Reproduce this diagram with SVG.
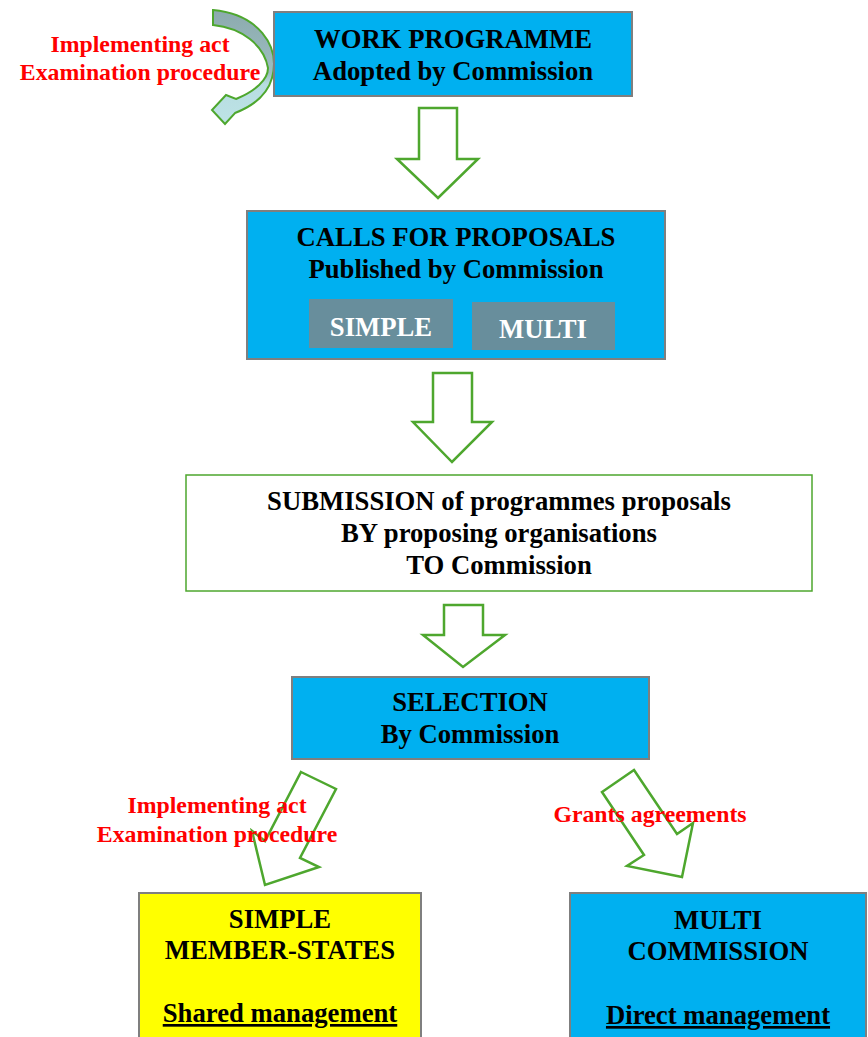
<svg xmlns="http://www.w3.org/2000/svg" width="868" height="1037" viewBox="0 0 868 1037">
<defs>
<style>
.box{fill:#00B0F0;stroke:#7F7F7F;stroke-width:2}
.yel{fill:#FFFF00;stroke:#7F7F7F;stroke-width:2}
.sub{fill:#FFFFFF;stroke:#4EA72E;stroke-width:1.5}
.tag{fill:#688E9C}
.arr{fill:none;stroke:#4EA72E;stroke-width:2.5;stroke-linejoin:miter}
.t{font-family:"Liberation Serif","Times New Roman",serif;font-weight:bold;font-size:26.7px;fill:#000;text-anchor:middle}
.w{fill:#FFFFFF}
.r{font-family:"Liberation Serif","Times New Roman",serif;font-weight:bold;font-size:23.8px;fill:#FF0000;text-anchor:middle}
.u{text-decoration:underline}
</style>
<linearGradient id="curv" x1="0" y1="0" x2="0" y2="1">
<stop offset="0" stop-color="#8CAAAE"/>
<stop offset="0.55" stop-color="#9CBDC0"/>
<stop offset="0.65" stop-color="#B7DDE1"/>
<stop offset="1" stop-color="#BDE3E6"/>
</linearGradient>
</defs>
<rect width="868" height="1037" fill="#FFFFFF"/>

<g id="connectors">
<path id="curved-arrow" d="M213,10 C257,14 281,45 272,78 C267,96 253,106 235,113 L225,124 L212,110 L226,95 L236,99 C255,91 268,80 268,68 C264,45 242,28 213,25 Z" fill="url(#curv)" stroke="#4EA72E" stroke-width="2"/>
<polygon class="arr" points="419,108 457,108 457,159 478,159 438,198 397,159 419,159"/>
<polygon class="arr" points="433,373 472,373 472,422 492,422 452,462 413,422 433,422"/>
<polygon class="arr" points="444,605 483,605 483,635 505,635 463,667 423,635 444,635"/>
<polygon class="arr" points="301,772 336,789 300,858 319,867 265,885 252,831 265,841"/>
<polygon class="arr" points="634,770 677,834 693,823 682,877 627,866 644,855 602,792"/>
</g>

<g id="label-top">
<text class="r" x="140" y="52">Implementing act</text>
<text class="r" x="140" y="80">Examination procedure</text>
</g>

<g id="work-programme">
<rect class="box" x="274" y="12" width="358" height="84"/>
<text class="t" x="453" y="48">WORK PROGRAMME</text>
<text class="t" x="453" y="80">Adopted by Commission</text>
</g>

<g id="calls-for-proposals">
<rect class="box" x="247" y="211" width="418" height="148"/>
<text class="t" x="456" y="246">CALLS FOR PROPOSALS</text>
<text class="t" x="456" y="278">Published by Commission</text>
<g id="tag-simple">
<rect class="tag" x="309" y="299" width="144" height="49"/>
<text class="t w" x="381" y="336">SIMPLE</text>
</g>
<g id="tag-multi">
<rect class="tag" x="472" y="302" width="143" height="48"/>
<text class="t w" x="543" y="338">MULTI</text>
</g>
</g>

<g id="submission">
<rect class="sub" x="186" y="475" width="626" height="116"/>
<text class="t" x="499" y="510">SUBMISSION of programmes proposals</text>
<text class="t" x="499" y="542">BY proposing organisations</text>
<text class="t" x="499" y="574">TO Commission</text>
</g>

<g id="selection">
<rect class="box" x="292" y="677" width="357" height="82"/>
<text class="t" x="470" y="711">SELECTION</text>
<text class="t" x="470" y="743">By Commission</text>
</g>

<g id="label-left">
<text class="r" x="217" y="813">Implementing act</text>
<text class="r" x="217" y="842">Examination procedure</text>
</g>
<g id="label-right">
<text class="r" x="650" y="822">Grants agreements</text>
</g>

<g id="simple-member-states">
<rect class="yel" x="139" y="893" width="282" height="150"/>
<text class="t" x="280" y="928">SIMPLE</text>
<text class="t" x="280" y="959">MEMBER-STATES</text>
<text class="t u" x="280" y="1022">Shared management</text>
</g>

<g id="multi-commission">
<rect class="box" x="570" y="893" width="296" height="150"/>
<text class="t" x="718" y="929">MULTI</text>
<text class="t" x="718" y="960">COMMISSION</text>
<text class="t u" x="718" y="1024">Direct management</text>
</g>
</svg>
